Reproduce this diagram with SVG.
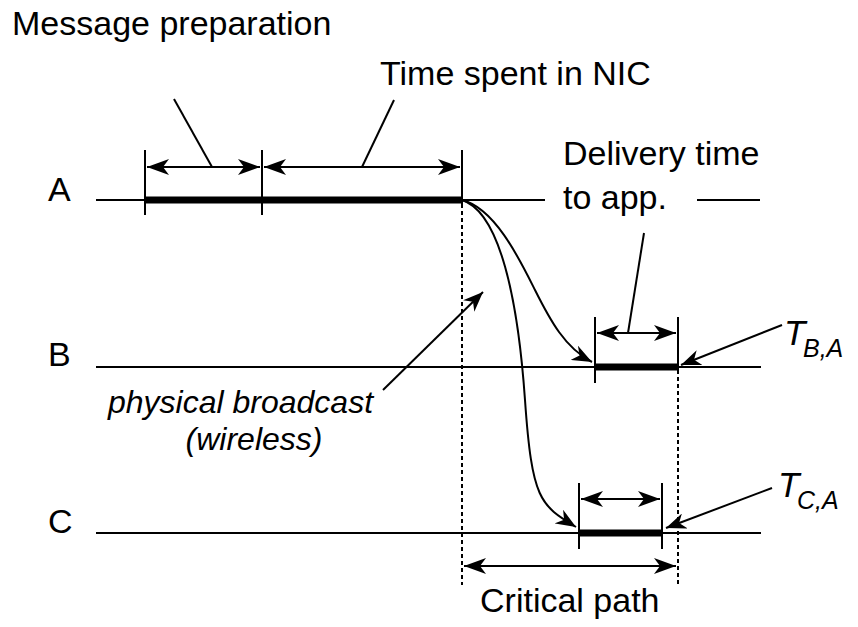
<svg xmlns="http://www.w3.org/2000/svg" width="858" height="627" viewBox="0 0 858 627">
  <style>
    text { font-family: "Liberation Sans", Arial, Helvetica, sans-serif; font-size: 34px; fill: #000; }
    .it { font-style: italic; font-size: 32px; }
    .big { font-style: italic; font-size: 35px; }
    .sub { font-size: 25px; font-style: italic; }
    .thin { stroke: #000; stroke-width: 2; fill: none; }
    .bar { stroke: #000; stroke-width: 7; fill: none; }
    .dot { stroke: #000; stroke-width: 2; stroke-dasharray: 4 3; fill: none; }
  </style>
  <defs>
    <marker id="dim" viewBox="-22 -8 24 16" refX="0" refY="0" markerWidth="24" markerHeight="16" markerUnits="userSpaceOnUse" orient="auto-start-reverse">
      <path d="M0,0 L-22,-8 L-16,0 L-22,8 Z" fill="#000"/>
    </marker>
    <marker id="tip" viewBox="-20 -8 22 16" refX="0" refY="0" markerWidth="22" markerHeight="16" markerUnits="userSpaceOnUse" orient="auto">
      <path d="M0,0 L-20,-8 L-14,0 L-20,8 Z" fill="#000"/>
    </marker>
  </defs>

  <!-- time lines -->
  <g id="lineA">
    <text x="48" y="201">A</text>
    <line class="thin" x1="96" y1="200" x2="545" y2="200"/>
    <line class="thin" x1="697" y1="200" x2="760" y2="200"/>
    <line class="bar" x1="145" y1="200" x2="462" y2="200"/>
    <line class="thin" x1="145" y1="150" x2="145" y2="215"/>
    <line class="thin" x1="262" y1="150" x2="262" y2="215"/>
    <line class="thin" x1="462" y1="150" x2="462" y2="204"/>
  </g>
  <g id="lineB">
    <text x="48" y="366">B</text>
    <line class="thin" x1="96" y1="367" x2="761" y2="367"/>
    <line class="bar" x1="595" y1="367" x2="678" y2="367"/>
    <line class="thin" x1="595" y1="317" x2="595" y2="383"/>
    <line class="thin" x1="678" y1="317" x2="678" y2="370"/>
  </g>
  <g id="lineC">
    <text x="48" y="533">C</text>
    <line class="thin" x1="96" y1="533" x2="761" y2="533"/>
    <line class="bar" x1="579" y1="533" x2="662" y2="533"/>
    <line class="thin" x1="579" y1="483" x2="579" y2="549"/>
    <line class="thin" x1="662" y1="483" x2="662" y2="549"/>
  </g>

  <!-- labels -->
  <g id="msgPrep">
    <text x="12" y="35">Message preparation</text>
  </g>
  <g id="nicTime">
    <text x="380" y="85">Time spent in NIC</text>
  </g>
  <g id="delivery">
    <text x="563" y="165">Delivery time</text>
    <text x="563" y="209">to app.</text>
  </g>
  <g id="broadcast">
    <text class="it" x="108" y="413">physical broadcast</text>
    <text class="it" x="254" y="450" text-anchor="middle">(wireless)</text>
  </g>
  <g id="tBA">
    <text class="big" x="784" y="345">T</text>
    <text class="sub" x="803" y="357">B,A</text>
  </g>
  <g id="tCA">
    <text class="big" x="778" y="497">T</text>
    <text class="sub" x="797" y="509">C,A</text>
  </g>
  <g id="critical">
    <text x="480" y="612">Critical path</text>
  </g>

  <!-- connectors -->
  <g id="connectors">
    <line class="dot" x1="462" y1="204" x2="462" y2="585"/>
    <line class="dot" x1="678" y1="370" x2="678" y2="585"/>

    <line class="thin" x1="147" y1="167" x2="260" y2="167" marker-start="url(#dim)" marker-end="url(#dim)"/>
    <line class="thin" x1="264" y1="167" x2="460" y2="167" marker-start="url(#dim)" marker-end="url(#dim)"/>
    <line class="thin" x1="597" y1="333" x2="676" y2="333" marker-start="url(#dim)" marker-end="url(#dim)"/>
    <line class="thin" x1="581" y1="499" x2="660" y2="499" marker-start="url(#dim)" marker-end="url(#dim)"/>
    <line class="thin" x1="464" y1="566" x2="676" y2="566" marker-start="url(#dim)" marker-end="url(#dim)"/>

    <line class="thin" x1="174" y1="99" x2="212" y2="167"/>
    <line class="thin" x1="394" y1="100" x2="362" y2="167"/>
    <line class="thin" x1="644" y1="233" x2="628" y2="333"/>

    <path class="thin" d="M462,200 C495,208 520,260 535,290 S565,348 592,362" marker-end="url(#tip)"/>
    <path class="thin" d="M462,200 C500,212 518,300 525,400 S540,505 576,527" marker-end="url(#tip)"/>

    <line class="thin" x1="383" y1="390" x2="483" y2="292" marker-end="url(#tip)"/>
    <line class="thin" x1="782" y1="325" x2="681" y2="365" marker-end="url(#tip)"/>
    <line class="thin" x1="772" y1="488" x2="666" y2="528" marker-end="url(#tip)"/>
  </g>
</svg>
